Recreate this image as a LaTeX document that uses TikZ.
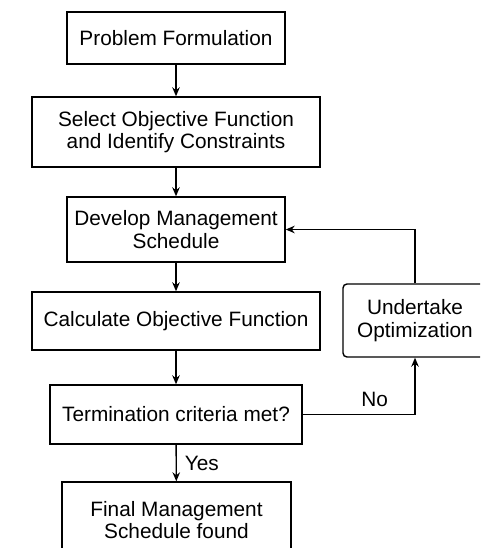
\documentclass[tikz,border=0pt]{standalone}
\usepackage{fontspec}
\setmainfont{Liberation Sans}
\usetikzlibrary{arrows.meta}
\begin{document}
\begin{tikzpicture}[x=1pt,y=-1pt,
  every node/.style={font=\fontsize{20.8}{22.5}\selectfont, align=center, inner sep=0pt},
  stepbox/.style={draw, line width=1.4pt, rectangle},
  optbox/.style={draw, line width=1.4pt, rectangle, rounded corners=4pt},
  flow/.style={line width=1.4pt, -{Stealth[length=9pt,width=7.5pt]}},
  lbl/.style={font=\fontsize{20.8}{22.5}\selectfont}]
\useasboundingbox (0,0) rectangle (480,548);
\clip (0,0) rectangle (480,548);
\fill[white] (0,0) rectangle (480,548);

\node[stepbox, minimum width=218pt, minimum height=52pt] (pf) at (176,38) {Problem Formulation};
\node[stepbox, minimum width=288pt, minimum height=70pt] (so) at (176,132) {Select Objective Function\\and Identify Constraints};
\node[stepbox, minimum width=218pt, minimum height=65pt] (dm) at (176,229.5) {Develop Management\\Schedule};
\node[stepbox, minimum width=288pt, minimum height=58pt] (co) at (176,321) {Calculate Objective Function};
\node[stepbox, minimum width=252pt, minimum height=59pt] (tc) at (176,414.5) {Termination criteria met?};
\node[stepbox, minimum width=229pt, minimum height=76pt] (fm) at (176.5,520) {Final Management\\Schedule found};
\node[optbox, minimum width=144pt, minimum height=73pt] (uo) at (415,320.5) {Undertake\\Optimization};

\draw[flow] (pf) -- (so);
\draw[flow] (so) -- (dm);
\draw[flow] (dm) -- (co);
\draw[flow] (co) -- (tc);
\draw[flow] (tc) -- node[lbl, right=8pt] {Yes} (fm);
\draw[flow] (tc.east) -| node[lbl, pos=0.32, above=7pt] {No} (uo.south);
\draw[flow] (uo.north) |- (dm.east);
\end{tikzpicture}
\end{document}
